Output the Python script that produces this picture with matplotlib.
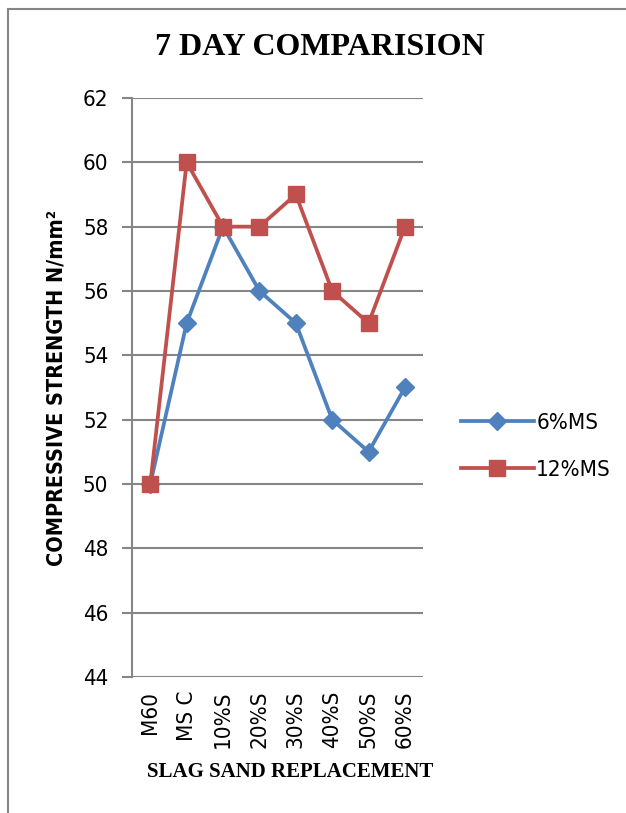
import numpy as np
import matplotlib.pyplot as plt
from matplotlib import font_manager

categories = ['M60', 'MS C', '10%S', '20%S', '30%S', '40%S', '50%S', '60%S']
ms6 = [50, 55, 58, 56, 55, 52, 51, 53]
ms12 = [50, 60, 58, 58, 59, 56, 55, 58]
yticks = [44, 46, 48, 50, 52, 54, 56, 58, 60, 62]

narrow = font_manager.FontProperties(family='DejaVu Sans', stretch='condensed', size=16)
narrow_b = font_manager.FontProperties(family='DejaVu Sans', stretch='condensed', size=15.5, weight='bold')
serif = ['Liberation Serif', 'DejaVu Serif']
grey = '#868686'

fig = plt.figure(figsize=(6.26, 8.13), dpi=100)
ax = fig.add_axes([0.211, 0.1673, 0.465, 0.7122])

x = np.arange(len(categories))
ax.plot(x, ms6, color='#4F81BD', lw=2.7, marker='D', ms=9, label='6%MS', zorder=3)
ax.plot(x, ms12, color='#C0504D', lw=2.7, marker='s', ms=11, label='12%MS', zorder=3)

ax.set_xlim(-0.5, len(categories) - 0.5)
ax.set_ylim(44, 62)
ax.set_yticks(yticks)
ax.set_xticks(x)
ax.set_xticklabels(categories, rotation=90, fontproperties=narrow)
ax.set_yticklabels([str(v) for v in yticks], fontproperties=narrow)
ax.yaxis.grid(True, color=grey, lw=1.5)
ax.set_axisbelow(True)
ax.tick_params(axis='y', length=7, width=1.5, color=grey, pad=10)
ax.tick_params(axis='x', length=0, pad=10)
for s in ['top', 'right', 'bottom']:
    ax.spines[s].set_visible(False)
ax.spines['left'].set_color(grey)
ax.spines['left'].set_linewidth(1.5)

ax.set_ylabel('COMPRESSIVE STRENGTH N/mm²', fontproperties=narrow_b, labelpad=12)
fig.text(0.463, 0.05, 'SLAG SAND REPLACEMENT', family=serif, fontsize=15,
         fontweight='bold', ha='center', va='center')
fig.text(0.511, 0.942, '7 DAY COMPARISION', family=serif, fontsize=23,
         fontweight='bold', ha='center', va='center')

ax.legend(loc='center left', bbox_to_anchor=(1.06, 0.398), frameon=False,
          prop=narrow, handlelength=3.3, handletextpad=0.1, labelspacing=1.2)

# outer chart border
fig.add_artist(plt.Line2D([0.0128, 0.0128], [0, 0.989], color=grey, lw=1.5))
fig.add_artist(plt.Line2D([0.0128, 1.0], [0.989, 0.989], color=grey, lw=1.5))

fig.savefig('out.png', dpi=100)
